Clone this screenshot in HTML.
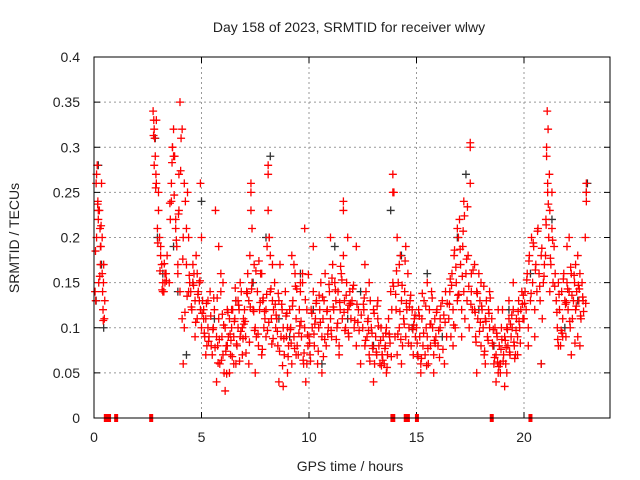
<!DOCTYPE html>
<html><head><meta charset="utf-8"><style>
html,body{margin:0;padding:0;background:#fff}
svg{display:block}
text{font-family:"Liberation Sans",sans-serif;fill:#222}
</style></head><body>
<svg id="chart" width="640" height="480" viewBox="0 0 640 480" xmlns="http://www.w3.org/2000/svg">
<text x="349" y="32" font-size="14" text-anchor="middle">Day 158 of 2023, SRMTID for receiver wlwy</text>
<text transform="translate(19,238) rotate(-90)" font-size="14" text-anchor="middle">SRMTID / TECUs</text>
<text x="350" y="471" font-size="14" text-anchor="middle">GPS time / hours</text>
<g id="grid"></g>
<g id="ticks"></g>
<g id="black"></g>
<g id="red"></g>
<rect x="94" y="57" width="516" height="361" fill="none" stroke="#000" stroke-width="1"/>
</svg>
<script>
const xTicks=[0,5,10,15,20];
const yTicks=[0,0.05,0.1,0.15,0.2,0.25,0.3,0.35,0.4];
const yTickLabels=["0","0.05","0.1","0.15","0.2","0.25","0.3","0.35","0.4"];
const redT=[0.05,0.08,0.1,0.12,0.15,0.18,0.2,0.22,0.25,0.28,0.3,0.32,0.35,0.38,0.4,0.42,0.45,0.48,0.5,0.12,0.2,0.3,0.38,0.44,
2.75,2.78,2.8,2.82,2.85,2.88,2.9,2.95,3.0,3.05,3.1,3.15,3.2,3.25,3.3,3.35,3.4,2.9,3.0,3.1,3.2,3.3,2.8,
3.5,3.55,3.6,3.65,3.7,3.75,3.8,3.85,3.9,3.95,4.0,4.05,4.1,4.15,4.2,4.25,4.3,4.35,4.4,4.45,3.6,3.7,3.8,3.9,4.0,4.1,4.2,4.3,3.65,3.95,4.15,4.4,
4.5,4.55,4.6,4.65,4.7,4.75,4.8,4.85,4.9,4.95,5.0,5.05,5.1,5.15,5.2,5.25,5.3,5.35,5.4,5.45,4.6,4.7,4.8,4.9,5.0,5.1,5.2,5.3,4.95,
5.5,5.55,5.6,5.65,5.7,5.75,5.8,5.85,5.9,5.95,6.0,6.05,6.1,6.15,6.2,6.25,6.3,6.35,6.4,6.45,6.5,6.55,6.6,6.65,6.7,6.75,6.8,6.85,6.9,6.95,5.7,5.9,6.1,6.3,6.5,6.7,6.9,5.8,6.0,6.2,6.4,6.6,6.8,
7.0,7.05,7.1,7.15,7.2,7.25,7.3,7.35,7.4,7.45,7.5,7.55,7.6,7.65,7.7,7.75,7.8,7.85,7.9,7.95,8.0,8.05,8.1,8.15,8.2,8.25,8.3,8.35,8.4,8.45,7.3,7.3,7.35,8.1,8.1,8.15,8.2,7.2,7.5,7.8,8.0,8.3,
8.5,8.55,8.6,8.65,8.7,8.75,8.8,8.85,8.9,8.95,9.0,9.05,9.1,9.15,9.2,9.25,9.3,9.35,9.4,9.45,9.5,9.55,9.6,9.65,9.7,9.75,9.8,9.85,9.9,9.95,8.6,8.8,9.0,9.2,9.4,9.6,9.8,9.9,9.3,9.7,
10.0,10.05,10.1,10.15,10.2,10.25,10.3,10.35,10.4,10.45,10.5,10.55,10.6,10.65,10.7,10.75,10.8,10.85,10.9,10.95,11.0,11.05,11.1,11.15,11.2,11.25,11.3,11.35,11.4,11.45,11.5,11.55,11.6,11.65,11.7,11.75,11.8,11.85,11.9,11.95,12.0,12.1,12.2,12.3,12.4,10.2,10.6,11.0,11.4,11.6,11.6,11.8,12.2,
12.5,12.55,12.6,12.65,12.7,12.75,12.8,12.85,12.9,12.95,13.0,13.05,13.1,13.15,13.2,13.25,13.3,13.35,13.4,13.45,13.5,13.55,13.6,13.65,13.7,13.75,13.8,13.85,13.9,13.95,12.6,12.8,13.0,13.2,13.4,13.6,13.9,13.9,
14.0,14.05,14.1,14.15,14.2,14.25,14.3,14.35,14.4,14.45,14.5,14.55,14.6,14.65,14.7,14.75,14.8,14.85,14.9,14.95,14.1,14.3,14.5,14.2,
15.0,15.05,15.1,15.15,15.2,15.25,15.3,15.35,15.4,15.45,15.5,15.55,15.6,15.65,15.7,15.75,15.8,15.85,15.9,15.95,16.0,16.1,16.2,16.3,16.4,15.2,15.5,15.8,16.1,16.35,
16.5,16.55,16.6,16.65,16.7,16.75,16.8,16.85,16.9,16.95,17.0,17.05,17.1,17.15,17.2,17.25,17.3,17.35,17.4,17.45,17.5,17.55,17.6,16.7,16.9,17.1,17.5,17.5,17.55,17.2,
17.7,17.75,17.8,17.85,17.9,17.95,18.0,18.05,18.1,18.15,18.2,18.25,18.3,18.35,18.4,17.8,18.0,18.2,18.4,17.7,
18.5,18.55,18.6,18.65,18.7,18.75,18.8,18.85,18.9,18.95,19.0,19.05,19.1,19.15,19.2,19.25,19.3,19.35,19.4,19.45,19.5,19.55,19.6,19.65,19.7,19.75,19.8,19.85,19.9,19.95,18.7,18.9,19.1,19.3,19.5,19.7,18.8,19.2,
20.0,20.05,20.1,20.15,20.2,20.25,20.3,20.35,20.4,20.45,20.5,20.55,20.6,20.65,20.7,20.75,20.8,20.85,20.9,20.95,20.2,20.5,20.8,
21.0,21.02,21.05,21.08,21.1,21.12,21.15,21.18,21.2,21.25,21.3,21.35,21.4,21.45,21.05,21.1,21.2,21.3,
21.5,21.55,21.6,21.65,21.7,21.75,21.8,21.85,21.9,21.95,22.0,22.05,22.1,22.15,22.2,22.25,22.3,22.35,22.4,22.45,22.5,22.55,22.6,22.65,22.7,22.75,21.6,21.8,22.0,22.2,22.4,22.6,22.1,22.5,22.9,22.9,22.9,22.85,
0.55,0.7,1.03,2.66,13.88,13.92,14.5,14.6,15.02,18.5,20.3];
const redV=[0.14,0.13,0.26,0.2,0.28,0.24,0.22,0.15,0.23,0.21,0.17,0.19,0.26,0.16,0.14,0.12,0.17,0.11,0.13,0.27,0.23,0.19,0.2,0.15,
0.34,0.33,0.32,0.31,0.29,0.27,0.26,0.21,0.23,0.2,0.18,0.17,0.15,0.14,0.15,0.16,0.18,0.33,0.25,0.19,0.14,0.16,0.28,
0.15,0.22,0.26,0.3,0.32,0.29,0.21,0.19,0.17,0.27,0.35,0.31,0.32,0.2,0.26,0.24,0.21,0.25,0.2,0.15,0.24,0.29,0.22,0.16,0.14,0.11,0.1,0.17,0.3,0.23,0.06,0.14,
0.14,0.12,0.15,0.16,0.13,0.18,0.11,0.14,0.13,0.12,0.1,0.13,0.12,0.09,0.11,0.08,0.1,0.09,0.14,0.08,0.17,0.09,0.16,0.15,0.2,0.11,0.07,0.13,0.26,
0.07,0.1,0.12,0.23,0.09,0.08,0.11,0.06,0.14,0.09,0.07,0.05,0.1,0.08,0.12,0.09,0.11,0.07,0.1,0.12,0.09,0.11,0.13,0.08,0.1,0.12,0.09,0.14,0.07,0.11,0.04,0.16,0.03,0.05,0.06,0.13,0.1,0.19,0.15,0.08,0.12,0.06,0.15,
0.12,0.09,0.14,0.16,0.13,0.18,0.26,0.15,0.12,0.17,0.1,0.09,0.14,0.08,0.12,0.16,0.07,0.13,0.1,0.11,0.09,0.19,0.27,0.2,0.14,0.11,0.13,0.12,0.15,0.1,0.25,0.23,0.21,0.28,0.23,0.2,0.18,0.06,0.05,0.16,0.12,0.17,
0.11,0.08,0.13,0.17,0.09,0.12,0.1,0.07,0.14,0.09,0.05,0.08,0.12,0.1,0.06,0.13,0.09,0.16,0.11,0.08,0.07,0.12,0.14,0.09,0.16,0.06,0.1,0.04,0.12,0.08,0.04,0.035,0.1,0.18,0.07,0.15,0.21,0.06,0.17,0.15,
0.09,0.07,0.12,0.1,0.14,0.08,0.11,0.13,0.06,0.1,0.12,0.15,0.09,0.11,0.13,0.16,0.08,0.12,0.1,0.14,0.11,0.09,0.17,0.12,0.15,0.13,0.1,0.14,0.08,0.12,0.16,0.11,0.18,0.13,0.1,0.15,0.12,0.09,0.14,0.11,0.13,0.1,0.08,0.12,0.06,0.19,0.05,0.2,0.07,0.24,0.23,0.2,0.19,
0.1,0.12,0.08,0.14,0.09,0.11,0.07,0.13,0.1,0.08,0.12,0.06,0.09,0.07,0.11,0.08,0.06,0.1,0.07,0.09,0.06,0.08,0.05,0.07,0.11,0.09,0.14,0.12,0.27,0.25,0.17,0.15,0.04,0.13,0.07,0.1,0.25,0.15,
0.09,0.12,0.07,0.15,0.1,0.18,0.13,0.08,0.11,0.14,0.09,0.12,0.16,0.1,0.13,0.08,0.12,0.07,0.11,0.09,0.2,0.06,0.19,0.17,
0.1,0.07,0.12,0.09,0.06,0.11,0.08,0.13,0.07,0.1,0.09,0.06,0.12,0.08,0.14,0.1,0.07,0.11,0.09,0.12,0.08,0.1,0.13,0.06,0.09,0.05,0.15,0.05,0.11,0.14,
0.11,0.14,0.09,0.16,0.12,0.18,0.1,0.15,0.13,0.2,0.22,0.17,0.12,0.19,0.14,0.11,0.16,0.13,0.18,0.1,0.3,0.16,0.12,0.08,0.21,0.09,0.26,0.305,0.14,0.24,
0.12,0.09,0.14,0.11,0.16,0.13,0.08,0.12,0.1,0.07,0.11,0.13,0.09,0.12,0.1,0.05,0.15,0.06,0.14,0.17,
0.11,0.08,0.06,0.1,0.07,0.09,0.05,0.08,0.06,0.1,0.12,0.07,0.09,0.06,0.1,0.08,0.11,0.07,0.09,0.1,0.12,0.08,0.07,0.11,0.09,0.13,0.1,0.12,0.14,0.11,0.04,0.05,0.035,0.13,0.15,0.07,0.12,0.05,
0.11,0.14,0.12,0.16,0.1,0.18,0.13,0.2,0.15,0.19,0.12,0.17,0.14,0.21,0.16,0.13,0.18,0.11,0.15,0.17,0.08,0.09,0.06,
0.18,0.22,0.29,0.34,0.25,0.32,0.2,0.27,0.23,0.17,0.21,0.15,0.19,0.16,0.3,0.26,0.14,0.25,
0.13,0.1,0.15,0.12,0.08,0.14,0.11,0.16,0.13,0.09,0.15,0.12,0.14,0.1,0.16,0.11,0.13,0.15,0.12,0.14,0.09,0.13,0.16,0.11,0.15,0.13,0.08,0.09,0.19,0.07,0.17,0.08,0.2,0.18,0.25,0.26,0.24,0.2,
0,0,0,0,0,0,0,0,0,0,0];
const redT2=[0.07,0.17,0.27,0.33,0.43,2.77,2.87,2.97,3.07,3.17,3.27,3.37,3.53,3.63,3.73,3.83,3.93,4.03,4.13,4.23,4.33,4.43,
4.53,4.63,4.73,4.83,4.93,5.03,5.13,5.23,5.33,5.43,5.53,5.63,5.73,5.83,5.93,6.03,6.13,6.23,6.33,6.43,6.53,6.63,6.73,6.83,6.93,
5.57,5.77,5.97,6.17,6.37,6.57,6.77,6.97,7.03,7.13,7.23,7.33,7.43,7.53,7.63,7.73,7.83,7.93,8.03,8.13,8.23,8.33,8.43,
7.07,7.27,7.47,7.67,7.87,8.07,8.27,8.47,8.53,8.63,8.73,8.83,8.93,9.03,9.13,9.23,9.33,9.43,9.53,9.63,9.73,9.83,9.93,
8.57,8.77,8.97,9.17,9.37,9.57,9.77,9.97,10.03,10.13,10.23,10.33,10.43,10.53,10.63,10.73,10.83,10.93,11.03,11.13,11.23,11.33,11.43,11.53,11.63,11.73,11.83,11.93,12.03,12.13,12.23,12.33,12.43,
10.07,10.27,10.47,10.67,10.87,11.07,11.27,11.47,11.67,11.87,12.07,12.27,12.53,12.63,12.73,12.83,12.93,13.03,13.13,13.23,13.33,13.43,13.53,13.63,13.73,13.83,13.93,
12.57,12.77,12.97,13.17,13.37,13.57,13.77,14.03,14.13,14.23,14.33,14.43,14.53,14.63,14.73,14.83,14.93,14.07,14.27,14.47,14.67,14.87,
15.03,15.13,15.23,15.33,15.43,15.53,15.63,15.73,15.83,15.93,16.03,16.13,16.23,16.33,16.43,15.07,15.27,15.47,15.67,15.87,16.07,16.27,
16.53,16.63,16.73,16.83,16.93,17.03,17.13,17.23,17.33,17.43,17.53,17.63,17.73,17.83,17.93,18.03,18.13,18.23,18.33,18.43,16.57,16.77,16.97,17.17,17.37,17.77,17.97,18.17,18.37,
18.53,18.63,18.73,18.83,18.93,19.03,19.13,19.23,19.33,19.43,19.53,19.63,19.73,19.83,19.93,18.57,18.77,18.97,19.17,19.37,19.57,19.77,19.97,
20.03,20.13,20.23,20.33,20.43,20.53,20.63,20.73,20.83,20.93,21.03,21.13,21.23,21.33,21.43,
21.53,21.63,21.73,21.83,21.93,22.03,22.13,22.23,22.33,22.43,22.53,22.63,22.73,21.57,21.77,21.97,22.17,22.37,22.57,22.77,22.87];
const redV2=[0.185,0.237,0.157,0.213,0.108,0.313,0.255,0.194,0.163,0.142,0.171,0.152,0.238,0.283,0.247,0.197,0.226,0.274,0.176,0.117,0.135,0.158,
0.123,0.147,0.106,0.137,0.152,0.116,0.094,0.127,0.085,0.113,0.098,0.078,0.133,0.087,0.064,0.103,0.074,0.117,0.093,0.068,0.107,0.082,0.125,0.096,0.088,
0.133,0.061,0.115,0.049,0.086,0.144,0.063,0.104,0.107,0.138,0.084,0.143,0.118,0.163,0.093,0.128,0.076,0.118,0.137,0.106,0.143,0.088,0.126,
0.072,0.123,0.097,0.174,0.133,0.097,0.082,0.114,0.096,0.074,0.126,0.088,0.113,0.068,0.098,0.124,0.077,0.143,0.094,0.107,0.064,0.131,0.092,
0.138,0.058,0.116,0.083,0.146,0.102,0.072,0.159,0.083,0.116,0.093,0.127,0.074,0.106,0.134,0.087,0.118,0.148,0.097,0.123,0.142,0.105,0.128,0.153,0.117,0.136,0.094,0.127,0.143,0.108,0.126,0.097,0.114,
0.063,0.104,0.136,0.068,0.093,0.155,0.087,0.168,0.097,0.125,0.147,0.106,0.126,0.086,0.107,0.063,0.094,0.116,0.073,0.102,0.086,0.064,0.077,0.056,0.093,0.068,0.146,
0.133,0.097,0.077,0.124,0.058,0.094,0.083,0.137,0.093,0.118,0.147,0.104,0.127,0.083,0.136,0.098,0.114,0.163,0.087,0.174,0.123,0.103,
0.083,0.113,0.066,0.094,0.124,0.077,0.104,0.133,0.086,0.117,0.097,0.124,0.076,0.106,0.127,0.068,0.138,0.058,0.104,0.083,0.067,0.114,
0.126,0.147,0.103,0.167,0.136,0.187,0.157,0.224,0.176,0.146,0.126,0.164,0.117,0.138,0.096,0.124,0.146,0.107,0.086,0.133,0.154,0.186,0.137,0.207,0.234,0.084,0.106,0.074,0.116,
0.083,0.067,0.094,0.057,0.076,0.063,0.086,0.098,0.073,0.114,0.084,0.097,0.118,0.083,0.126,0.098,0.062,0.087,0.078,0.104,0.066,0.107,0.136,
0.127,0.153,0.174,0.138,0.194,0.164,0.207,0.146,0.188,0.157,0.214,0.237,0.177,0.197,0.146,
0.117,0.137,0.097,0.154,0.126,0.143,0.107,0.136,0.158,0.124,0.147,0.113,0.134,0.087,0.094,0.128,0.167,0.083,0.143,0.118,0.127];
const blackT=[0.1,0.2,0.35,0.45,2.85,2.95,3.2,3.7,3.9,4.3,4.6,5.0,5.6,6.2,6.6,7.4,8.0,8.2,8.6,9.1,9.6,10.2,10.6,11.2,11.8,12.4,13.0,13.8,14.3,14.8,15.5,16.2,16.9,17.3,17.9,18.6,19.3,20.3,20.8,21.3,21.9,22.5,22.9,22.95];
const blackV=[0.13,0.28,0.17,0.1,0.31,0.2,0.16,0.19,0.14,0.07,0.15,0.24,0.11,0.08,0.13,0.15,0.2,0.29,0.11,0.09,0.16,0.12,0.06,0.19,0.11,0.14,0.08,0.23,0.18,0.1,0.16,0.09,0.2,0.27,0.12,0.08,0.12,0.16,0.06,0.22,0.1,0.13,0.25,0.26];

const NS="http://www.w3.org/2000/svg";
const X0=94,X1=610,Y0=418,Y1=57;
function xs(t){return X0+(t/24)*(X1-X0);}
function ys(v){return Y0-(v/0.4)*(Y0-Y1);}
function mk(tag,attrs,parent){const e=document.createElementNS(NS,tag);for(const k in attrs)e.setAttribute(k,attrs[k]);parent.appendChild(e);return e;}
const grid=document.getElementById('grid'),ticks=document.getElementById('ticks');
xTicks.forEach(t=>{
  const x=xs(t);
  if(t>0){const l=mk('line',{x1:x,x2:x,y1:Y1,y2:Y0,stroke:'#999','stroke-dasharray':'2,3','stroke-width':1},grid);
  
  }
  mk('line',{x1:x,x2:x,y1:Y0,y2:Y0-6,stroke:'#000'},ticks);
  mk('line',{x1:x,x2:x,y1:Y1,y2:Y1+6,stroke:'#000'},ticks);
  const tx=mk('text',{x:x,y:Y0+24,'font-size':14,'text-anchor':'middle'},ticks);
  tx.textContent=String(t);
  
  
});
yTicks.forEach((v,i)=>{
  const y=ys(v);
  if(i>0&&i<yTicks.length-1){const l=mk('line',{x1:X0,x2:X1,y1:y,y2:y,stroke:'#999','stroke-dasharray':'2,3','stroke-width':1},grid);
  
  }
  mk('line',{x1:X0,x2:X0+6,y1:y,y2:y,stroke:'#000'},ticks);
  mk('line',{x1:X1,x2:X1-6,y1:y,y2:y,stroke:'#000'},ticks);
  const tx=mk('text',{x:X0-14,y:y+5,'font-size':14,'text-anchor':'end'},ticks);
  tx.textContent=yTickLabels[i];
  
  
});
function plus(g,t,v,col){
  const x=xs(t),y=ys(v);
  let p;
  if(v===0){p=mk('rect',{x:x-2,y:y-4,width:4,height:8,fill:col},g);}
  else{p=mk('path',{d:`M${x-4},${y}H${x+4}M${x},${y-4}V${y+4}`,stroke:col,'stroke-width':1.3,fill:'none'},g);}
  
  
}
const bg=document.getElementById('black'),rg=document.getElementById('red');
blackT.forEach((t,i)=>plus(bg,t,blackV[i],'#333'));
redT.forEach((t,i)=>plus(rg,t,redV[i],'#f00'));
redT2.forEach((t,i)=>plus(rg,t,redV2[i],'#f00'));
</script>
</body></html>
